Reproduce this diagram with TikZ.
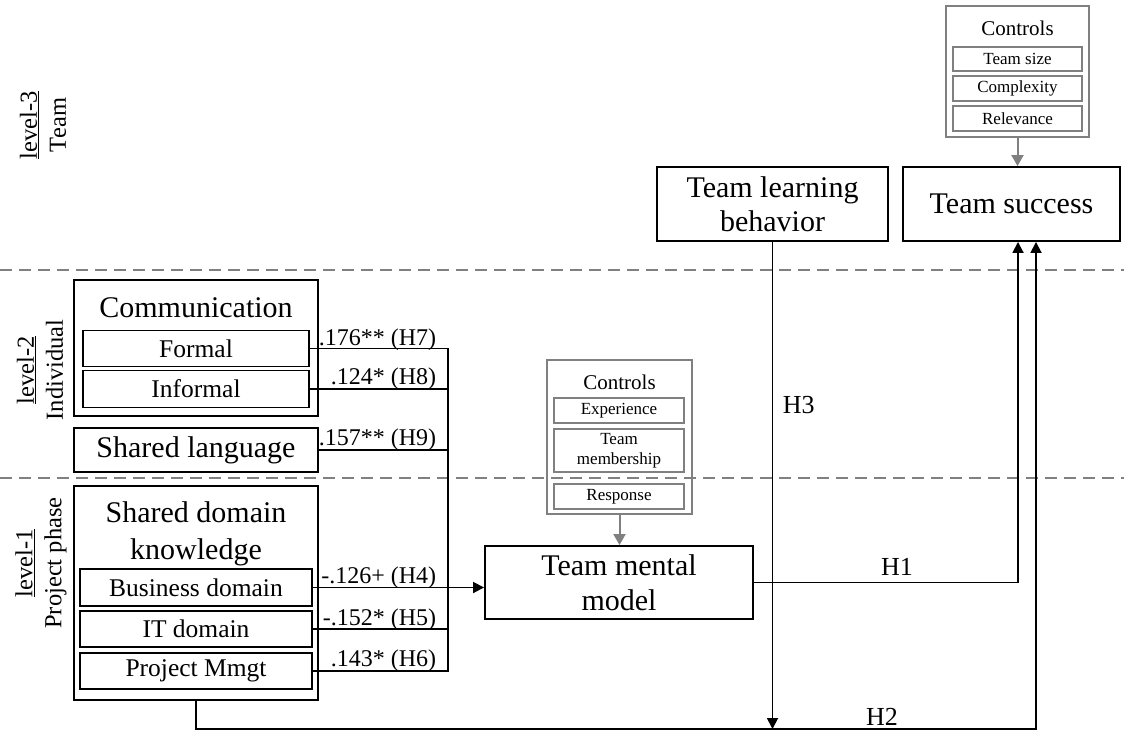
\documentclass[tikz,border=0pt]{standalone}
\usepackage{fontspec}
\setmainfont{Liberation Serif}
\usetikzlibrary{arrows.meta}
\definecolor{ctrlgray}{RGB}{128,128,128}
\begin{document}
\begin{tikzpicture}[x=1pt,y=-1pt,
  line width=1.8pt,
  box/.style={draw, line width=1.9pt, inner sep=0pt, align=center, font=\fontsize{30}{34.5}\selectfont},
  frame/.style={draw, line width=1.9pt, inner sep=0pt},
  title/.style={inner sep=0pt, align=center, font=\fontsize{30}{37}\selectfont},
  subbox/.style={draw, line width=1.9pt, inner sep=0pt, align=center, font=\fontsize{25.5}{28}\selectfont},
  ctrlbox/.style={draw=ctrlgray, line width=2.2pt, inner sep=0pt},
  ctrltitle/.style={inner sep=0pt, font=\fontsize{21}{24}\selectfont},
  ctrlitem/.style={draw=ctrlgray, line width=2.2pt, inner sep=0pt, align=center, font=\fontsize{17}{20}\selectfont},
  coef/.style={inner sep=0pt, anchor=base east, font=\fontsize{24}{26}\selectfont},
  hyp/.style={inner sep=0pt, font=\fontsize{26}{28}\selectfont},
  levellabel/.style={inner sep=0pt, rotate=90, align=center, font=\fontsize{24.5}{29}\selectfont},
  levelline/.style={draw=ctrlgray, line width=2pt, dash pattern=on 12pt off 7pt},
  arr/.style={-{Triangle[length=11pt,width=11pt]}},
  grayarr/.style={draw=ctrlgray, line width=2pt, -{Triangle[length=11pt,width=12pt]}}
]
\useasboundingbox (0,0) rectangle (1124,731);

% level separators
\draw[levelline] (0,270) -- (1124,270);
\draw[levelline] (0,478) -- (1124,478);

% level captions
\node[levellabel] (lvl3) at (43,125) {\underline{level-3}\\Team};
\node[levellabel] (lvl2) at (40,370) {\underline{level-2}\\Individual};
\node[levellabel] (lvl1) at (41,563) {\underline{level-1}\\Project phase};

% communication
\node[frame, minimum width=244pt, minimum height=136pt] (comm) at (196,348) {};
\node[title] (commT) at (196,308) {Communication};
\node[subbox, minimum width=226pt, minimum height=36pt] (formal) at (196,348.5) {Formal};
\node[subbox, minimum width=226pt, minimum height=37pt] (informal) at (196,389) {Informal};

% shared language
\node[box, minimum width=244pt, minimum height=44pt] (lang) at (196,450) {Shared language};

% shared domain knowledge
\node[frame, minimum width=244pt, minimum height=214pt] (sdk) at (196,593) {};
\node[title] (sdkT) at (196,533.5) {Shared domain\\knowledge};
\node[subbox, minimum width=232pt, minimum height=37pt] (biz) at (196,587.5) {Business domain};
\node[subbox, minimum width=232pt, minimum height=36pt] (itd) at (196,629) {IT domain};
\node[subbox, minimum width=232pt, minimum height=36pt] (pm) at (196,671) {Project Mmgt};

% outcome constructs
\node[box, minimum width=268pt, minimum height=73pt] (tmm) at (619,582.5) {Team mental\\model};
\node[box, minimum width=231pt, minimum height=74pt] (tlb) at (772.5,204) {Team learning\\behavior};
\node[box, minimum width=217pt, minimum height=74pt] (ts) at (1011.5,204) {Team success};

% controls for team success
\node[ctrlbox, minimum width=143pt, minimum height=131pt] (ctrlT) at (1017.5,71.5) {};
\node[ctrltitle] (ctrlTt) at (1017.5,28) {Controls};
\node[ctrlitem, minimum width=129pt, minimum height=24pt] (tsize) at (1017.5,59) {Team size};
\node[ctrlitem, minimum width=129pt, minimum height=25pt] (cplx) at (1017.5,88.5) {Complexity};
\node[ctrlitem, minimum width=129pt, minimum height=25pt] (relv) at (1017.5,118.5) {Relevance};

% controls for team mental model
\node[ctrlbox, minimum width=145pt, minimum height=154pt] (ctrlM) at (619.5,437) {};
\node[ctrltitle] (ctrlMt) at (619.5,382) {Controls};
\node[ctrlitem, minimum width=130pt, minimum height=25pt] (expr) at (619,410.5) {Experience};
\node[ctrlitem, minimum width=130pt, minimum height=43pt] (memb) at (619,450.5) {Team\\membership};
\node[ctrlitem, minimum width=130pt, minimum height=25pt] (resp) at (619,496.5) {Response};

\draw[grayarr] (ctrlT.south) -- (ctrlT.south |- ts.north);
\draw[grayarr] (ctrlM.south) -- (ctrlM.south |- tmm.north);

% antecedents joining into team mental model
\coordinate (j) at (448,587.5);
\draw (formal.east) -| (j);
\draw (informal.east) -| (j);
\draw (lang.east) -| (j);
\draw (biz.east) -- (j);
\draw (itd.east) -| (j);
\draw (pm.east) -| (j);
\draw[arr] (j) -- (j -| tmm.west);

\node[coef] (c7) at (437,345) {.176** (H7)};
\node[coef] (c8) at (437,384) {.124* (H8)};
\node[coef] (c9) at (437,445) {.157** (H9)};
\node[coef] (c4) at (437,583.5) {-.126+ (H4)};
\node[coef] (c5) at (437,625) {-.152* (H5)};
\node[coef] (c6) at (437,666) {.143* (H6)};

% hypotheses H1 to H3
\coordinate (h2corner) at (1036,729);
\draw[arr] (tmm.east) -| ([xshift=6.5pt]ts.south);
\draw[arr] (sdk.south) |- (h2corner) -- ([xshift=24.5pt]ts.south);
\draw[arr] (tlb.south) -- (tlb.south |- h2corner);

\node[hyp] (h1) at (897,567) {H1};
\node[hyp] (h2) at (882,717) {H2};
\node[hyp, anchor=west] (h3) at (782,405) {H3};
\end{tikzpicture}
\end{document}
